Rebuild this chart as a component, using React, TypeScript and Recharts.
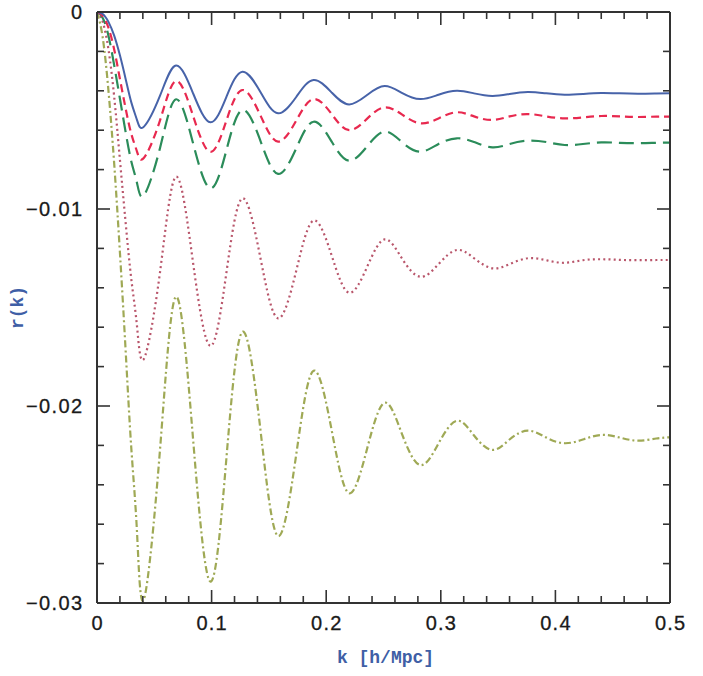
import React from 'react';
import { LineChart, Line, XAxis, YAxis, Label } from 'recharts';

const kGrid = [0, 0.005, 0.01, 0.015, 0.02, 0.025, 0.03, 0.035, 0.041, 0.055, 0.069, 0.084, 0.099, 0.113, 0.127, 0.143, 0.158, 0.174, 0.189, 0.205, 0.22, 0.236, 0.251, 0.266, 0.282, 0.298, 0.314, 0.329, 0.345, 0.36, 0.376, 0.392, 0.408, 0.424, 0.44, 0.456, 0.472, 0.488, 0.5];

const rSolid = [0, -0.0001, -0.0005, -0.0012, -0.0022, -0.0034, -0.0046, -0.0055, -0.00582, -0.00425, -0.00272, -0.00415, -0.0056, -0.0043, -0.00303, -0.0041, -0.00514, -0.0043, -0.00345, -0.0041, -0.00469, -0.0042, -0.00376, -0.0041, -0.00442, -0.0042, -0.004, -0.00413, -0.00426, -0.00416, -0.00406, -0.00413, -0.0042, -0.00416, -0.00411, -0.00413, -0.00415, -0.00414, -0.00413];

const rDashed = [0, -0.0002, -0.0008, -0.0019, -0.0034, -0.0049, -0.0062, -0.0071, -0.0074, -0.0055, -0.0035, -0.0053, -0.0071, -0.0055, -0.00396, -0.0053, -0.00658, -0.0055, -0.00442, -0.0052, -0.006, -0.0054, -0.00484, -0.0052, -0.00565, -0.0054, -0.00509, -0.0053, -0.00548, -0.0053, -0.00518, -0.0053, -0.0054, -0.00535, -0.00528, -0.0053, -0.00533, -0.00531, -0.00531];

const rLongDash = [0, -0.0003, -0.0012, -0.0027, -0.0044, -0.0061, -0.0076, -0.0087, -0.0093, -0.0069, -0.00443, -0.0067, -0.00895, -0.007, -0.00497, -0.0066, -0.00822, -0.0069, -0.00557, -0.0066, -0.00755, -0.0068, -0.00607, -0.0066, -0.00709, -0.0067, -0.00641, -0.0066, -0.00687, -0.0067, -0.00653, -0.0066, -0.00675, -0.0067, -0.00662, -0.00664, -0.00666, -0.00664, -0.00663];

const rDotted = [0, -0.0005, -0.0019, -0.0043, -0.0075, -0.0107, -0.0136, -0.016, -0.0176, -0.0132, -0.00836, -0.0128, -0.01695, -0.0132, -0.00946, -0.0126, -0.01555, -0.0131, -0.01059, -0.0124, -0.01425, -0.0129, -0.01154, -0.0125, -0.01344, -0.0128, -0.01208, -0.0125, -0.01301, -0.0128, -0.0125, -0.0126, -0.01273, -0.0126, -0.01255, -0.01258, -0.0126, -0.01259, -0.01259];

const rDashDot = [0, -0.0013, -0.004, -0.0077, -0.0122, -0.0172, -0.0222, -0.0265, -0.0298, -0.0222, -0.01445, -0.0218, -0.02892, -0.0226, -0.01623, -0.0214, -0.0266, -0.0224, -0.01821, -0.0213, -0.02443, -0.0221, -0.01983, -0.0214, -0.023, -0.0219, -0.02075, -0.0215, -0.02223, -0.0217, -0.02125, -0.0216, -0.02189, -0.0217, -0.02147, -0.0216, -0.02176, -0.02165, -0.02159];

const xTicks = [0, 0.02, 0.04, 0.06, 0.08, 0.1, 0.12, 0.14, 0.16, 0.18, 0.2, 0.22, 0.24, 0.26, 0.28, 0.3, 0.32, 0.34, 0.36, 0.38, 0.4, 0.42, 0.44, 0.46, 0.48, 0.5];
const xTickLabels = ['0', '0.1', '0.2', '0.3', '0.4', '0.5'];
const yTicks = [0, -0.002, -0.004, -0.006, -0.008, -0.01, -0.012, -0.014, -0.016, -0.018, -0.02, -0.022, -0.024, -0.026, -0.028, -0.03];
const yTickLabels = ['0', '\u22120.01', '\u22120.02', '\u22120.03'];

const xLabel = 'k [h/Mpc]';
const yLabel = 'r(k)';

const data = kGrid.map((k, i) => ({
  k,
  solid: rSolid[i],
  dashed: rDashed[i],
  longDash: rLongDash[i],
  dotted: rDotted[i],
  dashDot: rDashDot[i],
}));

const AXIS = '#333';
const LABEL_BLUE = '#3f5fa6';
const TICK_FONT = '"Liberation Sans", Arial, sans-serif';
const TITLE_FONT = '"Liberation Mono", "Courier New", monospace';
const MAJOR = 13;
const MINOR = 7;

const isMajorX = (v: number) => Math.abs(v * 10 - Math.round(v * 10)) < 1e-6;
const isMajorY = (v: number) => Math.abs(v * 100 - Math.round(v * 100)) < 1e-6;

const BottomTick = (p: any) => {
  const v = p.payload.value;
  const major = isMajorX(v);
  return (
    <g>
      <line x1={p.x} x2={p.x} y1={p.y} y2={p.y - (major ? MAJOR : MINOR)} stroke={AXIS} strokeWidth={1.6} />
      {major && (
        <text x={p.x + 0.6} y={p.y + 27} textAnchor="middle" fontFamily={TICK_FONT} fontSize={20} fill="#1a1a1a" stroke="#1a1a1a" strokeWidth={0.3} letterSpacing={1.2}>
          {xTickLabels[Math.round(v * 10)]}
        </text>
      )}
    </g>
  );
};

const TopTick = (p: any) => {
  const v = p.payload.value;
  const major = isMajorX(v);
  return <line x1={p.x} x2={p.x} y1={p.y} y2={p.y + (major ? MAJOR : MINOR)} stroke={AXIS} strokeWidth={1.6} />;
};

const LeftTick = (p: any) => {
  const v = p.payload.value;
  const major = isMajorY(v);
  return (
    <g>
      <line x1={p.x} x2={p.x + (major ? MAJOR : MINOR)} y1={p.y} y2={p.y} stroke={AXIS} strokeWidth={1.6} />
      {major && (
        <text x={p.x - 13.5} y={p.y} dy="0.36em" textAnchor="end" fontFamily={TICK_FONT} fontSize={20} fill="#1a1a1a" stroke="#1a1a1a" strokeWidth={0.3} letterSpacing={1.4}>
          {yTickLabels[Math.round(-v * 100)]}
        </text>
      )}
    </g>
  );
};

const RightTick = (p: any) => {
  const v = p.payload.value;
  const major = isMajorY(v);
  return <line x1={p.x} x2={p.x - (major ? MAJOR : MINOR)} y1={p.y} y2={p.y} stroke={AXIS} strokeWidth={1.6} />;
};

export default function App() {
  return (
    <div style={{ position: 'absolute', left: 0, top: 0, width: 703, height: 676, background: '#fff' }}>
      <LineChart width={703} height={676} data={data} margin={{ top: 11, right: 32, bottom: 33, left: 37 }}>
        <XAxis
          dataKey="k"
          type="number"
          domain={[0, 0.5]}
          allowDataOverflow
          ticks={xTicks}
          interval={0}
          tickSize={0}
          tickMargin={0}
          tickLine={false}
          tick={BottomTick}
          height={40}
          axisLine={{ stroke: AXIS, strokeWidth: 2 }}
        >
          <Label
            content={(p: any) => {
              const vb = p.viewBox || { x: 97, y: 603, width: 573 };
              return (
                <text x={vb.x + vb.width / 2 + 2} y={vb.y + 60} textAnchor="middle" fontFamily={TITLE_FONT} fontWeight="bold" fontSize={18} fill={LABEL_BLUE}>
                  {xLabel}
                </text>
              );
            }}
          />
        </XAxis>
        <XAxis
          xAxisId="top"
          orientation="top"
          dataKey="k"
          type="number"
          domain={[0, 0.5]}
          allowDataOverflow
          ticks={xTicks}
          interval={0}
          tickSize={0}
          tickMargin={0}
          tickLine={false}
          tick={TopTick}
          height={1}
          axisLine={{ stroke: AXIS, strokeWidth: 2 }}
        />
        <YAxis
          type="number"
          domain={[-0.03, 0]}
          allowDataOverflow
          ticks={yTicks}
          interval={0}
          tickSize={0}
          tickMargin={0}
          tickLine={false}
          tick={LeftTick}
          width={60}
          axisLine={{ stroke: AXIS, strokeWidth: 2 }}
        >
          <Label
            content={(p: any) => {
              const vb = p.viewBox || { x: 37, y: 12, height: 591 };
              const cx = 17;
              const cy = vb.y + vb.height / 2;
              return (
                <text x={cx} y={cy} transform={`rotate(-90 ${cx} ${cy})`} dy="0.35em" textAnchor="middle" fontFamily={TITLE_FONT} fontWeight="bold" fontSize={18} fill={LABEL_BLUE}>
                  {yLabel}
                </text>
              );
            }}
          />
        </YAxis>
        <YAxis
          yAxisId="right"
          orientation="right"
          type="number"
          domain={[-0.03, 0]}
          allowDataOverflow
          ticks={yTicks}
          interval={0}
          tickSize={0}
          tickMargin={0}
          tickLine={false}
          tick={RightTick}
          width={1}
          axisLine={{ stroke: AXIS, strokeWidth: 2 }}
        />
        <Line type="natural" dataKey="dashDot" stroke="#9fa955" strokeWidth={2.2} strokeDasharray="7 3 2 3" dot={false} isAnimationActive={false} />
        <Line type="natural" dataKey="dotted" stroke="#b9566b" strokeWidth={2.2} strokeDasharray="2 3.2" dot={false} isAnimationActive={false} />
        <Line type="natural" dataKey="longDash" stroke="#2b8c5a" strokeWidth={2.2} strokeDasharray="15 7" dot={false} isAnimationActive={false} />
        <Line type="natural" dataKey="dashed" stroke="#e8294f" strokeWidth={2.2} strokeDasharray="8 5" dot={false} isAnimationActive={false} />
        <Line type="natural" dataKey="solid" stroke="#4763a9" strokeWidth={2} dot={false} isAnimationActive={false} />
      </LineChart>
    </div>
  );
}
